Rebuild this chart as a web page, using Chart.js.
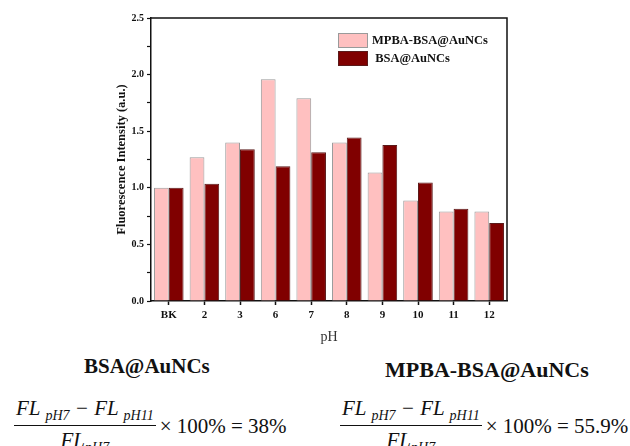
<!DOCTYPE html>
<html>
<head>
<meta charset="utf-8">
<script src="https://cdn.jsdelivr.net/npm/chart.js@4"></script>
<style>
  body { margin: 0; background: #fff; width: 630px; height: 446px; overflow: hidden; position: relative; }
  #wrap { position: absolute; left: 0; top: 0; width: 630px; height: 350px; }
  .title { position: absolute; font-family: "Liberation Serif", serif; font-weight: bold; color: #111; }
  .eq { position: absolute; font-family: "Liberation Serif", serif; font-size: 21px; color: #111; display: flex; align-items: center; }
  .frac { display: inline-flex; flex-direction: column; align-items: center; font-style: italic; }
  .frac .num { border-bottom: 1px solid #111; padding: 0 2px 1px; }
  .frac .den { padding-top: 2px; }
  sub { font-size: 14px; }
</style>
</head>
<body>
<div id="wrap"><canvas id="chart" width="630" height="350"></canvas></div>

<div class="title" style="left:84px; top:354px; font-size:21px;">BSA@AuNCs</div>
<div class="title" style="left:385px; top:357px; font-size:22px;">MPBA-BSA@AuNCs</div>

<div class="eq" style="left:14px; top:396px;">
  <span class="frac"><span class="num">FL <sub>pH7</sub> − FL <sub>pH11</sub></span><span class="den">FL<sub>pH7</sub></span></span>
  <span style="margin-left:4px;">× 100% = 38%</span>
</div>
<div class="eq" style="left:340px; top:396px;">
  <span class="frac"><span class="num">FL <sub>pH7</sub> − FL <sub>pH11</sub></span><span class="den">FL<sub>pH7</sub></span></span>
  <span style="margin-left:4px;">× 100% = 55.9%</span>
</div>

<script>
// pH categories and relative fluorescence
const phLabels = ['BK', '2', '3', '6', '7', '8', '9', '10', '11', '12'];
const mpbaValues = [1.00, 1.27, 1.40, 1.96, 1.79, 1.40, 1.135, 0.888, 0.79, 0.79];
const bsaValues = [1.00, 1.035, 1.34, 1.19, 1.315, 1.445, 1.378, 1.047, 0.814, 0.69];
const seriesNames = ['MPBA-BSA@AuNCs', ' BSA@AuNCs'];

const serif = '"Liberation Serif", "Times New Roman", serif';

// frame on top/right plus a small legend inside the plot
const framePlugin = {
    id: 'frame',
    afterDraw(chart) {
        const { ctx, chartArea: a } = chart;
        ctx.save();
        ctx.strokeStyle = '#111';
        ctx.lineWidth = 1.5;
        ctx.beginPath();
        ctx.moveTo(a.left, a.top);
        ctx.lineTo(a.right, a.top);
        ctx.lineTo(a.right, a.bottom);
        ctx.stroke();

        // legend
        let y = a.top + 15;
        chart.data.datasets.forEach(ds => {
            ctx.fillStyle = ds.backgroundColor;
            ctx.fillRect(338, y, 30, 15);
            ctx.strokeStyle = ds.borderColor;
            ctx.lineWidth = 1;
            ctx.strokeRect(338.5, y + 0.5, 29, 14);
            ctx.fillStyle = '#111';
            ctx.font = 'bold 12.5px ' + serif;
            ctx.textBaseline = 'middle';
            ctx.fillText(ds.label, 372, y + 8);
            y += 18;
        });
        ctx.restore();
    }
};

new Chart(document.getElementById('chart'), {
    type: 'bar',
    data: {
        labels: phLabels,
        datasets: [
            {
                label: seriesNames[0],
                data: mpbaValues,
                backgroundColor: '#FFC0C0',
                borderColor: '#9a9a9a',
                borderWidth: 1
            },
            {
                label: seriesNames[1],
                data: bsaValues,
                backgroundColor: '#800000',
                borderColor: '#5a1a1a',
                borderWidth: 1
            }
        ]
    },
    options: {
        responsive: false,
        animation: false,
        layout: { padding: { left: 110, right: 123, top: 18, bottom: 0 } },
        plugins: { legend: { display: false }, tooltip: { enabled: false } },
        datasets: { bar: { categoryPercentage: 0.83, barPercentage: 1.0 } },
        scales: {
            x: {
                grid: { display: true, drawOnChartArea: false, offset: false, tickLength: 4, color: '#111', tickWidth: 1.5 },
                border: { color: '#111', width: 1.5 },
                ticks: { color: '#111', font: { family: serif, weight: 'bold', size: 11 }, padding: 4, maxRotation: 0 },
                title: { display: true, text: 'pH', color: '#333', font: { family: serif, size: 14 }, padding: { top: 6 } },
                afterFit: s => { s.height = 49; }
            },
            y: {
                min: 0,
                max: 2.5,
                grid: { display: true, drawOnChartArea: false, tickLength: 4, color: '#111', tickWidth: 1.2 },
                border: { color: '#111', width: 1.5 },
                ticks: {
                    stepSize: 0.25,
                    color: '#111',
                    font: { family: serif, weight: 'bold', size: 10 },
                    padding: 3,
                    callback: v => (Math.abs(v * 2 - Math.round(v * 2)) < 1e-6 ? v.toFixed(1) : '')
                },
                title: { display: true, text: 'Fluorescence Intensity (a.u.)', color: '#111', font: { family: serif, weight: 'bold', size: 12.5 }, padding: { bottom: 6 } },
                afterFit: s => { s.width = 41; }
            }
        }
    },
    plugins: [framePlugin]
});
</script>
</body>
</html>
